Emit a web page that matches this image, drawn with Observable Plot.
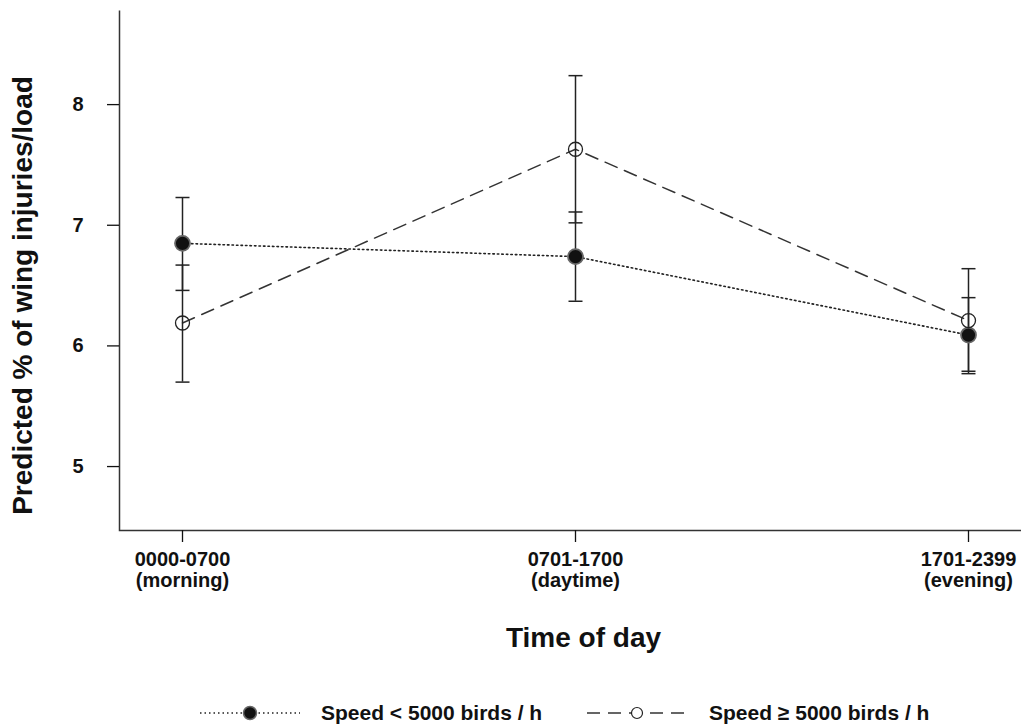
<!DOCTYPE html>
<html>
<head>
<meta charset="utf-8">
<script src="https://cdn.jsdelivr.net/npm/d3@7"></script>
<script src="https://cdn.jsdelivr.net/npm/@observablehq/plot@0.6"></script>
<style>
  body { margin: 0; background: #fff; font-family: "Liberation Sans", Arial, sans-serif; }
  #legend { position: relative; width: 1021px; height: 38px; }
  #legend .sw { position: absolute; top: 13px; }
  #legend .lab { position: absolute; top: 4px; line-height: 38px; font-size: 21px; font-weight: bold; color: #111; white-space: nowrap; }
</style>
</head>
<body>
<div id="chart"></div>
<div id="legend"></div>
<script>
// ---- data ----
const periods = ["morning", "daytime", "evening"];
const periodLabels = ["0000-0700\n(morning)", "0701-1700\n(daytime)", "1701-2399\n(evening)"];
const yTicks = [5, 6, 7, 8];

// Speed < 5000 birds / h (filled, dotted)
const slowMean  = [6.85, 6.74, 6.09];
const slowLower = [6.46, 6.37, 5.77];
const slowUpper = [7.23, 7.11, 6.40];

// Speed >= 5000 birds / h (open, dashed)
const fastMean  = [6.19, 7.63, 6.21];
const fastLower = [5.70, 7.02, 5.79];
const fastUpper = [6.67, 8.24, 6.64];

const seriesNames = ["Speed < 5000 birds / h", "Speed \u2265 5000 birds / h"];

// ---- build tables ----
const slow = periods.map((p, i) => ({period: p, mean: slowMean[i], lo: slowLower[i], hi: slowUpper[i]}));
const fast = periods.map((p, i) => ({period: p, mean: fastMean[i], lo: fastLower[i], hi: fastUpper[i]}));
const bars = slow.concat(fast);

const W = 1021, H = 690, mL = 119, mR = 0, mT = 10, mB = 160;
const fw = W - mL - mR, fh = H - mT - mB;

// horizontal error-bar cap as a custom symbol
const capSymbol = {draw(ctx) { ctx.moveTo(-7, 0); ctx.lineTo(7, 0); }};

const chart = Plot.plot({
  width: W, height: H,
  marginLeft: mL, marginRight: mR, marginTop: mT, marginBottom: mB,
  style: {fontFamily: "'Liberation Sans', Arial, sans-serif", background: "white", color: "#111", overflow: "visible"},
  x: {type: "point", domain: periods, padding: 0, insetLeft: 62, insetRight: 53},
  y: {domain: [4.47, 8.78]},
  marks: [
    Plot.frame({stroke: "#333", strokeWidth: 1.5, strokeDasharray: `0 ${fw + fh} ${fw + fh}`}),
    Plot.axisY({ticks: yTicks, tickFormat: d => String(d), tickSize: 12, tickPadding: 24, fontSize: 20, fontWeight: "bold", strokeWidth: 1.3, label: null}),
    Plot.axisX({tickSize: 12, tickPadding: 9, fontSize: 20, fontWeight: "bold", lineHeight: 1.05, strokeWidth: 1.3,
      tickFormat: d => periodLabels[periods.indexOf(d)], label: null}),
    Plot.text(["Time of day"], {frameAnchor: "bottom", dx: 13, dy: 108, lineAnchor: "middle", fontSize: 28, fontWeight: "bold", fill: "#111"}),
    Plot.text(["Predicted % of wing injuries/load"], {frameAnchor: "left", rotate: -90, textAnchor: "middle", dx: -96, dy: 25, lineAnchor: "middle", fontSize: 28, fontWeight: "bold", fill: "#111"}),
    Plot.line(slow, {x: "period", y: "mean", stroke: "#222", strokeWidth: 1.6, strokeDasharray: "1.5,3"}),
    Plot.line(fast, {x: "period", y: "mean", stroke: "#333", strokeWidth: 1.5, strokeDasharray: "13,8"}),
    Plot.ruleX(bars, {x: "period", y1: "lo", y2: "hi", stroke: "#222", strokeWidth: 1.5}),
    Plot.dot(bars, {x: "period", y: "lo", symbol: capSymbol, fill: "none", stroke: "#222", strokeWidth: 1.5}),
    Plot.dot(bars, {x: "period", y: "hi", symbol: capSymbol, fill: "none", stroke: "#222", strokeWidth: 1.5}),
    Plot.dot(slow, {x: "period", y: "mean", r: 7.5, fill: "#111", stroke: "#666", strokeWidth: 1.8}),
    Plot.dot(fast, {x: "period", y: "mean", r: 7, fill: "none", stroke: "#222", strokeWidth: 1.3})
  ]
});
document.getElementById("chart").appendChild(chart);

// ---- legend ----
const legend = document.getElementById("legend");
legend.innerHTML = `
  <svg class="sw" style="left:200px" width="100" height="20">
    <line x1="0" y1="10" x2="100" y2="10" stroke="#222" stroke-width="1.4" stroke-dasharray="1.5,3"/>
    <circle cx="50" cy="10" r="6.5" fill="#111" stroke="#666" stroke-width="1.5"/>
  </svg>
  <div class="lab" style="left:321px">${seriesNames[0]}</div>
  <svg class="sw" style="left:587px" width="102" height="20">
    <line x1="0" y1="10" x2="102" y2="10" stroke="#333" stroke-width="1.4" stroke-dasharray="13,8"/>
    <circle cx="50" cy="10" r="5.5" fill="white" stroke="#222" stroke-width="1.2"/>
  </svg>
  <div class="lab" style="left:709px">${seriesNames[1]}</div>`;
</script>
</body>
</html>
